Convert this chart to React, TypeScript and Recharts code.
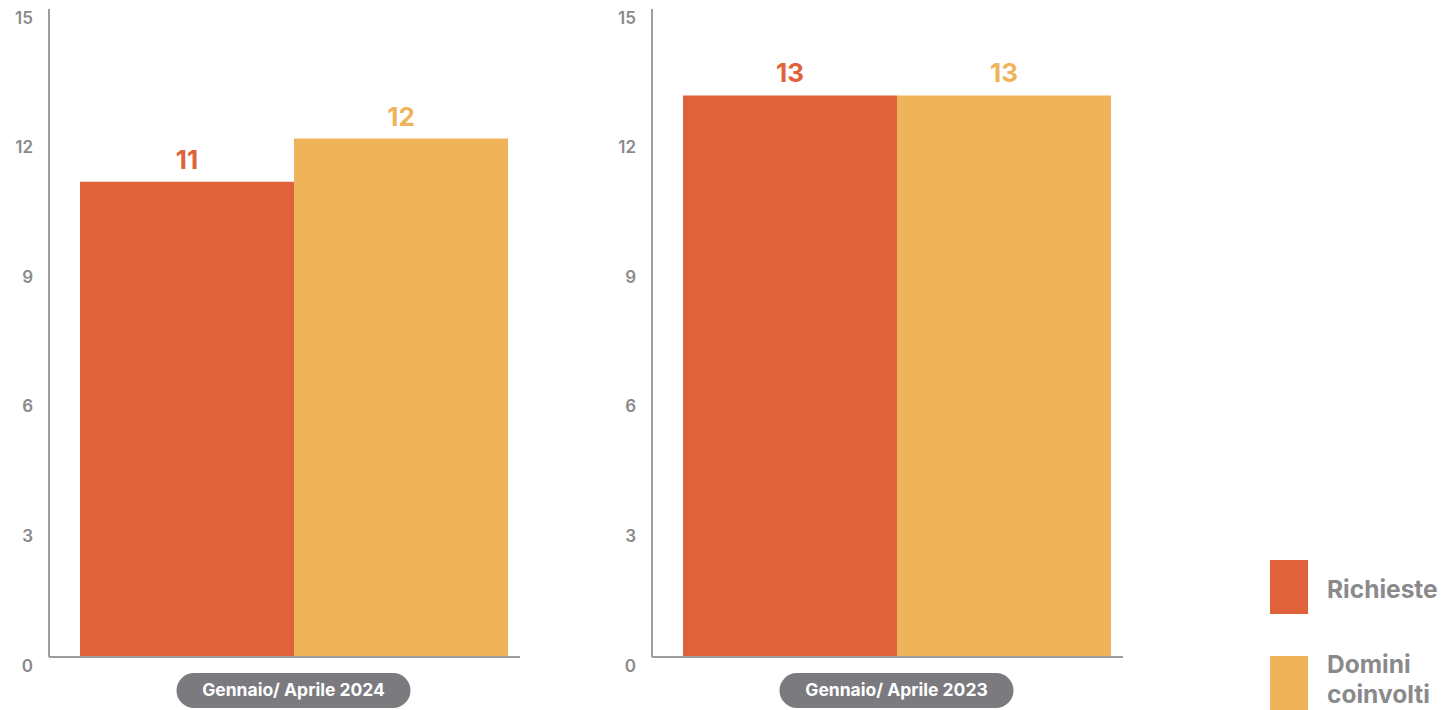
import { BarChart, Bar, XAxis, YAxis, LabelList } from "recharts";

const periods = ["Gennaio/ Aprile 2024", "Gennaio/ Aprile 2023"];
const richieste = [11, 13];
const dominiCoinvolti = [12, 13];
const yTicks = [0, 3, 6, 9, 12, 15];
const seriesNames = ["Richieste", "Domini coinvolti"];

const RED = "#df623a";
const YELLOW = "#efb359";
const AXIS = "#9d9da1";
const FONT = "Inter, 'Open Sans', sans-serif";

function YTick({ x, y, payload }: any) {
  return (
    <text x={x} y={y + 10} textAnchor="end" dominantBaseline="middle" fill="#8a8a8d" fontSize={17} fontWeight={600} fontFamily={FONT}>
      {payload.value}
    </text>
  );
}

function PillTick({ x, y, payload }: any) {
  const w = 234;
  return (
    <g>
      <rect x={x - w / 2} y={y + 16} width={w} height={35} rx={17.5} fill="#7b7b7f" />
      <text x={x} y={y + 34} textAnchor="middle" dominantBaseline="middle" fill="#ffffff" fontSize={17.5} fontWeight={700} fontFamily={FONT}>
        {payload.value}
      </text>
    </g>
  );
}

function PeriodChart({ index }: { index: number }) {
  const data = [
    { name: periods[index], Richieste: richieste[index], Domini: dominiCoinvolti[index] },
  ];
  return (
    <BarChart
      width={560}
      height={710}
      data={data}
      margin={{ top: 9, right: 40, left: 0, bottom: 0 }}
      barCategoryGap={0}
      barGap={0}
    >
      <XAxis
        dataKey="name"
        height={53}
        padding={{ left: 31, right: 13 }}
        axisLine={{ stroke: AXIS, strokeWidth: 2 }}
        tickLine={false}
        tickSize={0}
        tickMargin={0}
        tick={<PillTick />}
      />
      <YAxis
        width={49}
        domain={[0, 15]}
        ticks={yTicks}
        axisLine={{ stroke: AXIS, strokeWidth: 2 }}
        tickLine={false}
        tickSize={0}
        tickMargin={16}
        tick={<YTick />}
      />
      <Bar dataKey="Richieste" fill={RED} isAnimationActive={false}>
        <LabelList dataKey="Richieste" position="top" offset={13} fill={RED} fontSize={26} fontWeight={700} fontFamily={FONT} />
      </Bar>
      <Bar dataKey="Domini" fill={YELLOW} isAnimationActive={false}>
        <LabelList dataKey="Domini" position="top" offset={13} fill={YELLOW} fontSize={26} fontWeight={700} fontFamily={FONT} />
      </Bar>
    </BarChart>
  );
}

export default function App() {
  const legendColors = [RED, YELLOW];
  return (
    <div style={{ position: "absolute", left: 0, top: 0, width: 1442, height: 710, background: "#fff", overflow: "hidden", fontFamily: FONT }}>
      <div style={{ position: "absolute", left: 0, top: 0 }}>
        <PeriodChart index={0} />
      </div>
      <div style={{ position: "absolute", left: 603, top: 0 }}>
        <PeriodChart index={1} />
      </div>
      {seriesNames.map((name, i) => (
        <div key={name} style={{ position: "absolute", left: 1270, top: 560 + i * 96, display: "flex", alignItems: "flex-start" }}>
          <div style={{ width: 38, height: 54, background: legendColors[i] }} />
          <div
            style={{
              marginLeft: 19,
              marginTop: i === 0 ? 14 : -7,
              width: 125,
              color: "#8a8a8d",
              fontSize: 24.5,
              fontWeight: 700,
              lineHeight: "30px",
            }}
          >
            {name}
          </div>
        </div>
      ))}
    </div>
  );
}
